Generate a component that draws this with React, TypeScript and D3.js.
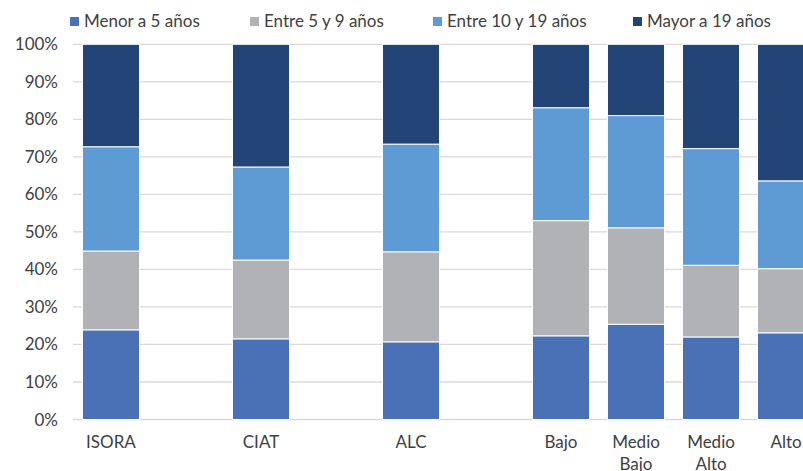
import React from "react";
import * as d3 from "d3";

const categories: string[][] = [
  ["ISORA"],
  [],
  ["CIAT"],
  [],
  ["ALC"],
  [],
  ["Bajo"],
  ["Medio", "Bajo"],
  ["Medio", "Alto"],
  ["Alto"],
];

const seriesNames = ["Menor a 5 años", "Entre 5 y 9 años", "Entre 10 y 19 años", "Mayor a 19 años"];
const seriesColors = ["#4A71B6", "#B1B2B5", "#5E9AD3", "#234477"];

// values in % per category slot (null = empty slot)
const menor5: (number | null)[] = [23.9, null, 21.5, null, 20.7, null, 22.3, 25.4, 22.0, 23.1];
const entre5y9: (number | null)[] = [21.0, null, 21.0, null, 24.0, null, 30.7, 25.7, 19.1, 17.1];
const entre10y19: (number | null)[] = [27.8, null, 24.8, null, 28.7, null, 30.1, 29.9, 31.1, 23.4];
const mayor19: (number | null)[] = [27.3, null, 32.7, null, 26.6, null, 16.9, 19.0, 27.8, 36.4];

const yTicks = [0, 10, 20, 30, 40, 50, 60, 70, 80, 90, 100];

const W = 803;
const H = 471;
const FONT = "Lato, 'Noto Sans', sans-serif";
const TEXT = "#404040";

export default function App() {
  const series = [menor5, entre5y9, entre10y19, mayor19];
  const idx = categories.map((_, i) => String(i));
  const x = d3
    .scaleBand<string>()
    .domain(idx)
    .range([73.5, 823.5])
    .paddingInner(0.24)
    .paddingOuter(0.12);
  const y = d3.scaleLinear().domain([0, 100]).range([419.5, 44.3]);

  const rows = categories.map((_, i) => {
    const r: any = { i: String(i) };
    series.forEach((s, k) => (r["s" + k] = s[i] ?? 0));
    return r;
  });
  const stack = d3.stack<any>().keys(series.map((_, k) => "s" + k));
  const stacked = stack(rows);

  const legendX = [70, 250, 433, 633];

  return (
    <div style={{ position: "fixed", left: 0, top: 0 }}>
      <svg width={W} height={H} style={{ display: "block", background: "#fff" }}>
        {yTicks.map((t) => (
          <g key={t}>
            <line x1={73} x2={W} y1={y(t)} y2={y(t)} stroke="#D9D9D9" strokeWidth={1.3} />
            <text
              x={58}
              y={y(t) + 6}
              textAnchor="end"
              fontFamily={FONT}
              fontSize={17}
              fill={TEXT}
            >
              {t}%
            </text>
          </g>
        ))}
        {stacked.map((layer, k) => (
          <g key={k} fill={seriesColors[k]}>
            {layer.map((d, i) =>
              series[k][i] == null ? null : (
                <rect
                  key={i}
                  x={x(String(i))}
                  width={x.bandwidth()}
                  y={y(d[1])}
                  height={y(d[0]) - y(d[1])}
                  stroke="#fff"
                  strokeWidth={1}
                />
              )
            )}
          </g>
        ))}
        {categories.map((lines, i) => (
          <text
            key={i}
            x={(x(String(i)) as number) + x.bandwidth() / 2}
            y={448}
            textAnchor="middle"
            fontFamily={FONT}
            fontSize={17}
            fill={TEXT}
          >
            {lines.map((l, j) => (
              <tspan key={j} x={(x(String(i)) as number) + x.bandwidth() / 2} dy={j === 0 ? 0 : 22}>
                {l}
              </tspan>
            ))}
          </text>
        ))}
        {seriesNames.map((n, k) => (
          <g key={n}>
            <rect x={legendX[k]} y={17} width={9} height={9} fill={seriesColors[k]} />
            <text x={legendX[k] + 14} y={27} fontFamily={FONT} fontSize={17} fill={TEXT}>
              {n}
            </text>
          </g>
        ))}
      </svg>
    </div>
  );
}
